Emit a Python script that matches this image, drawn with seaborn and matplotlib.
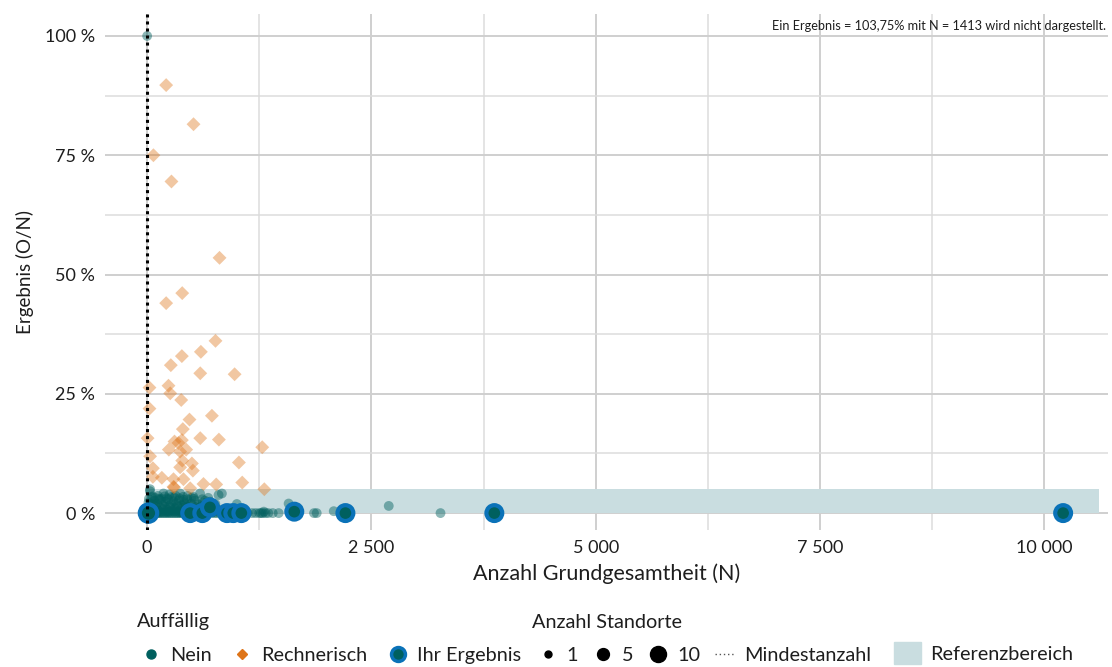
import numpy as np
import pandas as pd
import matplotlib
matplotlib.use("Agg")
import matplotlib.pyplot as plt
from matplotlib.lines import Line2D
from matplotlib.patches import Patch
from matplotlib.ticker import FuncFormatter, MultipleLocator
import seaborn as sns

# --- data ---
# "Nein" (not conspicuous) results: N and result in %
nein_n = [0,
          5, 15, 25, 40, 55, 70, 85, 100, 115, 130, 150, 170, 190, 210, 230, 250, 270, 290, 310,
          330, 350, 370, 390, 410, 430, 450, 470, 500, 530, 560, 590, 620, 650, 680, 720, 750, 780,
          810, 840, 870, 910, 950, 990, 1030, 1080, 1120, 1170, 1210, 1250, 1270, 1290, 1320, 1350,
          1400, 1466, 1860, 1890, 3270,
          10, 30, 50, 75, 95, 120, 145, 175, 200, 225, 255, 280, 310, 340, 365, 395, 420, 455, 480,
          510, 545, 575, 610, 640, 690, 730, 770, 820, 880, 940, 1010, 1300, 2080,
          15, 45, 80, 110, 140, 170, 205, 235, 265, 295, 325, 355, 385, 415, 445, 490, 530, 570,
          620, 660, 700, 760, 1000, 1577, 2693,
          33, 30, 60, 120, 182, 250, 300, 368, 450, 520, 590, 680, 796, 833, 220, 400,
          35, 65, 90, 135, 160, 185, 215, 245, 275, 305, 335, 360, 390, 425, 460, 495, 535, 580,
          615, 655, 700, 740, 790, 850, 900,
          20, 50, 90, 130, 165, 195, 240, 285, 320, 360, 405, 440, 475, 515, 555, 600, 645]
nein_y = [100.0,
          0, 0, 0, 0, 0, 0, 0, 0, 0, 0, 0, 0, 0, 0, 0, 0, 0, 0, 0,
          0, 0, 0, 0, 0, 0, 0, 0, 0, 0, 0, 0, 0, 0, 0, 0, 0, 0,
          0, 0, 0, 0, 0, 0, 0, 0, 0, 0, 0, 0, 0, 0, 0, 0,
          0, 0, 0, 0, 0,
          0.8, 1.2, 0.5, 1.0, 1.4, 0.6, 1.1, 0.9, 1.3, 0.7, 1.2, 0.5, 1.0, 1.4, 0.6, 1.1, 0.8, 1.3, 0.5,
          1.0, 0.7, 1.2, 0.6, 0.9, 0.8, 0.5, 1.0, 0.6, 0.4, 0.7, 0.5, 0.3, 0.4,
          2.2, 1.8, 2.6, 2.0, 2.8, 1.7, 2.4, 2.9, 1.9, 2.5, 2.1, 2.7, 1.6, 2.3, 2.9, 2.0, 2.6, 1.8,
          2.2, 1.7, 2.4, 1.9, 1.9, 2.0, 1.5,
          5.0, 4.6, 3.5, 3.6, 4.1, 3.9, 3.3, 4.1, 3.6, 3.0, 4.1, 3.2, 3.8, 4.1, 3.1, 3.4,
          0.3, 2.0, 3.2, 0.4, 3.0, 2.3, 0.3, 1.5, 3.4, 0.4, 1.6, 3.1, 0.3, 1.9, 0.4, 3.2, 1.3, 0.4,
          2.9, 0.3, 1.1, 0.3, 0.6, 0.3, 0.2,
          3.0, 3.3, 1.6, 3.0, 0.3, 3.5, 0.3, 1.4, 3.6, 0.2, 2.8, 1.5, 0.2, 3.4, 0.3, 1.4, 2.6]

# "Rechnerisch" (computationally conspicuous) results
rech_n = [212, 517, 70, 271, 807, 391, 212, 762, 599, 387, 264, 592, 975,
          26, 238, 257, 380, 26, 722, 472, 398, 5, 592, 800, 305, 349, 387, 1283,
          242, 435, 368, 33, 391, 499, 1023, 64, 368, 510, 64, 164, 294, 405,
          1060, 628, 770, 294, 300, 480, 1306]
rech_y = [89.7, 81.5, 75.0, 69.5, 53.5, 46.1, 44.0, 36.1, 33.8, 32.9, 31.0, 29.3, 29.1,
          26.3, 26.7, 25.1, 23.7, 21.9, 20.4, 19.6, 17.6, 15.7, 15.7, 15.4, 15.0, 14.7, 15.3, 13.8,
          13.3, 13.3, 12.9, 11.9, 11.0, 10.4, 10.6, 9.4, 9.6, 8.9, 7.6, 7.4, 7.1, 7.1,
          6.4, 6.1, 6.0, 5.5, 5.4, 5.2, 5.0]

# "Ihr Ergebnis" (own sites)
ihr_n = [15, 480, 615, 700, 890, 960, 1050, 1640, 2210, 3870, 10210]
ihr_y = [0, 0, 0, 1.2, 0, 0, 0, 0.3, 0, 0, 0]
ihr_standorte = [9, 7, 7, 7, 7, 7, 7, 7, 7, 7, 7]

ref_lo, ref_hi = 0, 5          # Referenzbereich in %
ref_n_max = 10610
mindestanzahl = 0

note = "Ein Ergebnis = 103,75% mit N = 1413 wird nicht dargestellt."

nein = pd.DataFrame({"N": nein_n, "y": nein_y, "standorte": 1})
rech = pd.DataFrame({"N": rech_n, "y": rech_y, "standorte": 1})
ihr = pd.DataFrame({"N": ihr_n, "y": ihr_y, "standorte": ihr_standorte})

# --- styling ---
sns.set_style("white")
plt.rcParams["font.family"] = ["Lato", "DejaVu Sans"]

teal = "#00605f"
orange = "#de7418"
blue = "#0a72b8"
band = "#c9dde0"
txt = "#1e1e1e"

fig = plt.figure(figsize=(11.12, 6.67), dpi=100)
ax = fig.add_axes([0.0944, 0.205, 0.902, 0.774])

ax.fill_between([0, ref_n_max], ref_lo, ref_hi, color=band, lw=0, zorder=1)

size_kw = dict(size="standorte", sizes=(50, 170), size_norm=(1, 10), legend=False)
sns.scatterplot(data=nein, x="N", y="y", color=teal, alpha=0.45, linewidth=0,
                ax=ax, zorder=3, **size_kw)
sns.scatterplot(data=rech, x="N", y="y", color=orange, alpha=0.4, marker="D",
                linewidth=0, ax=ax, zorder=3, **size_kw)
sns.scatterplot(data=ihr, x="N", y="y", color=teal, edgecolor=blue, linewidth=3.0,
                ax=ax, zorder=4, **size_kw)

ax.axvline(mindestanzahl, color="black", lw=2.2, ls=(0, (1, 1.3)), zorder=5)

ax.set_xlim(-470, 10710)
ax.set_ylim(-3.6, 104.6)
ax.xaxis.set_major_locator(MultipleLocator(2500))
ax.xaxis.set_minor_locator(MultipleLocator(1250))
ax.yaxis.set_major_locator(MultipleLocator(25))
ax.yaxis.set_minor_locator(MultipleLocator(12.5))
ax.xaxis.set_major_formatter(FuncFormatter(lambda v, p: f"{int(v):,}".replace(",", " ")))
ax.yaxis.set_major_formatter(FuncFormatter(lambda v, p: f"{int(v)} %"))
ax.grid(which="major", color="#cfcfcf", lw=1.4, zorder=0)
ax.grid(which="minor", color="#dcdcdc", lw=1.1, zorder=0)
ax.set_axisbelow(True)
for s in ax.spines.values():
    s.set_visible(False)
ax.tick_params(axis="both", which="both", length=0, labelsize=13, colors=txt, pad=7)
ax.set_xlabel("Anzahl Grundgesamtheit (N)", fontsize=15.5, color=txt, labelpad=5)
ax.set_ylabel("Ergebnis (O/N)", fontsize=13.5, color=txt, labelpad=8)

ax.text(0.998, 0.988, note, transform=ax.transAxes, ha="right", va="top", fontsize=9.2,
        color=txt, zorder=6)

# --- legends ---
leg_kw = dict(loc="lower left", frameon=False, fontsize=14.3, handletextpad=0.45,
              borderpad=0.15, borderaxespad=0)
h1 = [Line2D([], [], marker="o", ls="", color=teal, markersize=6.5),
      Line2D([], [], marker="D", ls="", color=orange, markersize=5),
      Line2D([], [], marker="o", ls="", color=teal, markeredgecolor=blue, markeredgewidth=2.5,
             markersize=10)]
leg1 = fig.legend(h1, ["Nein", "Rechnerisch", "Ihr Ergebnis"], ncol=3, handlelength=1.0,
                  columnspacing=1.05, bbox_to_anchor=(0.124, 0.0), **leg_kw)
h2 = [Line2D([], [], marker="o", ls="", color="black", markersize=np.sqrt(25)),
      Line2D([], [], marker="o", ls="", color="black", markersize=np.sqrt(73)),
      Line2D([], [], marker="o", ls="", color="black", markersize=np.sqrt(133)),
      Line2D([], [], color="#555555", lw=1, ls=(0, (1, 2)))]
leg2 = fig.legend(h2, ["1", "5", "10", "Mindestanzahl"], ncol=4, handlelength=1.0,
                  columnspacing=0.75, bbox_to_anchor=(0.481, 0.0), **leg_kw)
leg3 = fig.legend([Patch(color=band)], ["Referenzbereich"], handlelength=1.4,
                  handleheight=1.3, bbox_to_anchor=(0.801, 0.0), **leg_kw)
for leg in (leg1, leg2, leg3):
    for t in leg.get_texts():
        t.set_color(txt)

fig.text(137 / 1112, 1 - 622 / 667, "Auffällig", fontsize=14.3, color=txt, va="center")
fig.text(532 / 1112, 1 - 622 / 667, "Anzahl Standorte", fontsize=14.3, color=txt, va="center")

fig.savefig("out.png", dpi=100)
